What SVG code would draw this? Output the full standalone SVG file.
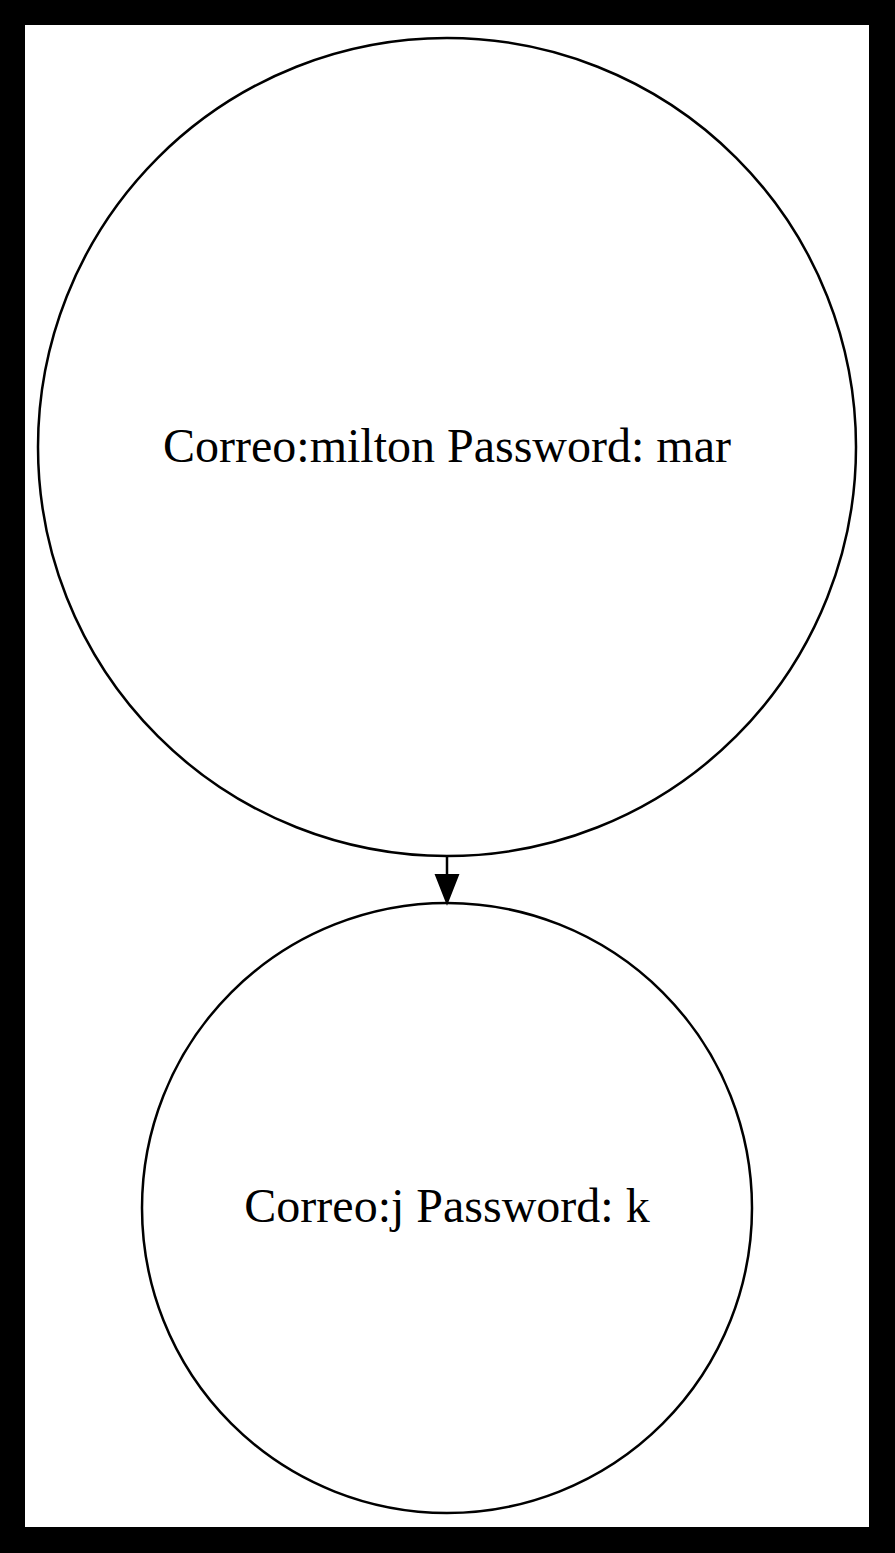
<svg xmlns="http://www.w3.org/2000/svg" width="895" height="1553" viewBox="0 0 895 1553">
<style>
.node{fill:none;stroke:#000;stroke-width:2.5}
.lbl{font-family:"Liberation Serif","Times New Roman",serif;font-size:48px;fill:#000;text-anchor:middle}
.edge{stroke:#000;stroke-width:2.5;fill:none}
</style>
<rect x="0" y="0" width="895" height="1553" fill="#000"/>
<rect x="25" y="25" width="844" height="1502" fill="#fff"/>
<g id="node1">
<circle class="node" cx="447" cy="447" r="409"/>
<text class="lbl" x="447" y="462">Correo:milton Password: mar</text>
</g>
<g id="node2">
<circle class="node" cx="447" cy="1208" r="305"/>
<text class="lbl" x="447" y="1222">Correo:j Password: k</text>
</g>
<g id="edges">
<path class="edge" d="M447,856 L447,875"/>
<polygon points="436,875 458,875 447,903" fill="#000" stroke="#000" stroke-width="2"/>
</g>
</svg>
